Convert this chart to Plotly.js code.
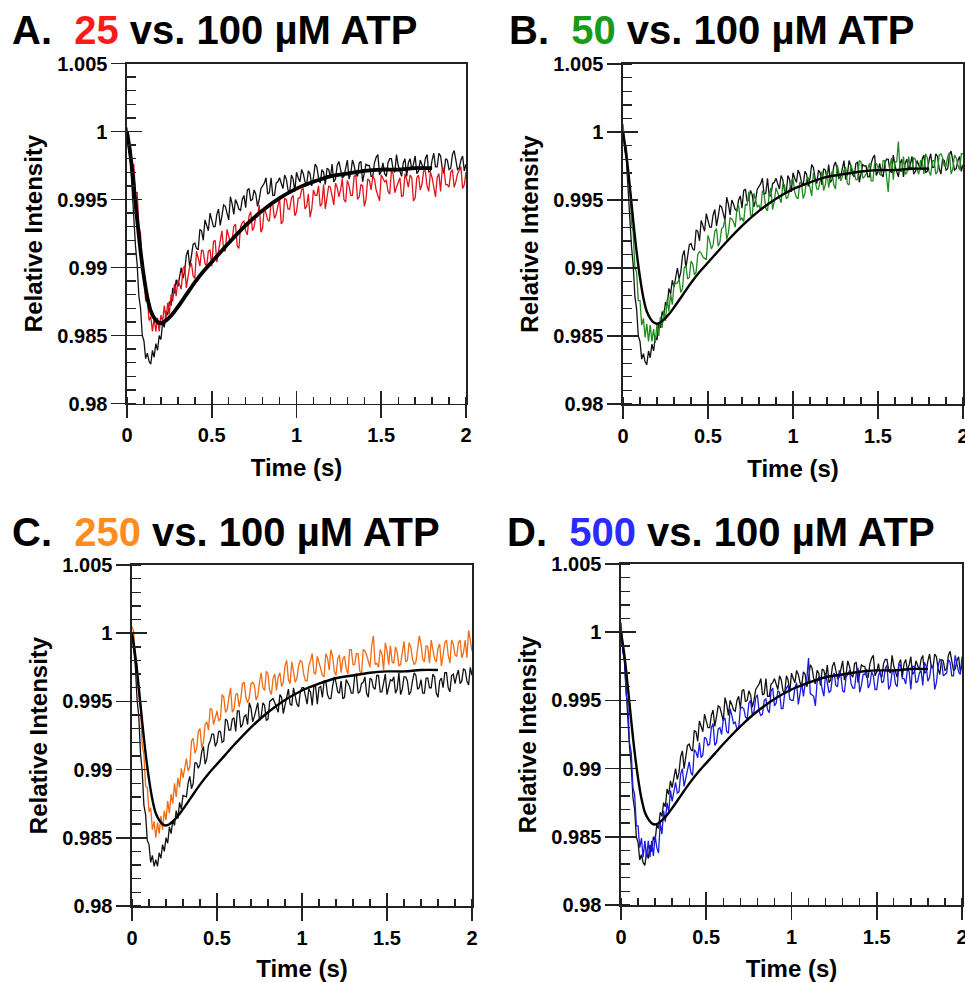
<!DOCTYPE html>
<html>
<head>
<meta charset="utf-8">
<script src="https://cdn.plot.ly/plotly-3.0.1.min.js"></script>
<style>html,body{margin:0;padding:0;background:#fff;}#chart{width:965px;height:982px;}</style>
</head>
<body>
<div id="chart"></div>
<script>
// ---- data ----
const time = [0,0.01,0.02,0.03,0.04,0.05,0.06,0.07,0.08,0.09,0.1,0.11,0.12,0.13,0.14,0.15,0.16,0.17,0.18,0.19,0.2,0.21,0.22,0.23,0.24,0.25,0.26,0.27,0.28,0.29,0.3,
0.32,0.34,0.36,0.38,0.4,0.42,0.44,0.46,0.48,0.5,
0.52,0.54,0.56,0.58,0.6,0.62,0.64,0.66,0.68,0.7,
0.72,0.74,0.76,0.78,0.8,0.82,0.84,0.86,0.88,0.9,
0.92,0.94,0.96,0.98,1,1.02,1.04,1.06,1.08,1.1,
1.12,1.14,1.16,1.18,1.2,1.22,1.24,1.26,1.28,1.3,
1.32,1.34,1.36,1.38,1.4,1.42,1.44,1.46,1.48,1.5,
1.52,1.54,1.56,1.58,1.6,1.62,1.64,1.66,1.68,1.7,
1.72,1.74,1.76,1.78,1.8,1.82,1.84,1.86,1.88,1.9,
1.92,1.94,1.96,1.98,2];

// in-between sample times of the recovery phase
const midTime = [0.33,0.35,0.37,0.39,0.41,0.43,0.45,0.47,0.49,0.51,
0.53,0.55,0.57,0.59,0.61,0.63,0.65,0.67,0.69,0.71,
0.73,0.75,0.77,0.79,0.81,0.83,0.85,0.87,0.89,0.91,
0.93,0.95,0.97,0.99,1.01,1.03,1.05,1.07,1.09,1.11,
1.13,1.15,1.17,1.19,1.21,1.23,1.25,1.27,1.29,1.31,
1.33,1.35,1.37,1.39,1.41,1.43,1.45,1.47,1.49,1.51,
1.53,1.55,1.57,1.59,1.61,1.63,1.65,1.67,1.69,1.71,
1.73,1.75,1.77,1.79,1.81,1.83,1.85,1.87,1.89,1.91,
1.93,1.95,1.97,1.99];

// 100 µM ATP control trace (panels A, B, D)
const control100 = [1.0002,0.9987,0.9979,0.9956,0.9943,0.9916,0.9902,0.9879,0.9870,0.9850,0.9846,0.9833,0.9837,0.9831,0.9829,0.9839,0.9834,0.9844,0.9839,0.9850,0.9847,0.9859,0.9856,0.9868,0.9865,0.9875,0.9872,0.9885,0.9881,0.9891,0.9886,
0.9900,0.9897,0.9913,0.9909,0.9918,0.9913,0.9927,0.9935,0.9927,0.9935,
0.9930,0.9943,0.9938,0.9945,0.9935,0.9947,0.9950,0.9943,0.9950,0.9944,
0.9958,0.9950,0.9954,0.9950,0.9960,0.9966,0.9955,0.9953,0.9962,0.9966,
0.9958,0.9965,0.9955,0.9965,0.9970,0.9963,0.9969,0.9961,0.9969,0.9966,
0.9974,0.9962,0.9970,0.9973,0.9966,0.9963,0.9975,0.9971,0.9967,0.9979,
0.9969,0.9975,0.9967,0.9978,0.9969,0.9975,0.9967,0.9977,0.9983,0.9971,
0.9969,0.9977,0.9980,0.9970,0.9975,0.9967,0.9980,0.9977,0.9972,0.9982,
0.9971,0.9976,0.9980,0.9970,0.9979,0.9974,0.9984,0.9973,0.9980,0.9972,
0.9983,0.9979,0.9973,0.9982,0.9976];
const control100Mid = [0.9892,0.9909,0.9900,0.9917,0.9914,0.9928,0.9920,0.9931,0.9940,0.9930,
0.9939,0.9931,0.9946,0.9940,0.9952,0.9939,0.9947,0.9942,0.9953,0.9957,
0.9949,0.9957,0.9945,0.9958,0.9962,0.9954,0.9966,0.9953,0.9963,0.9961,
0.9968,0.9957,0.9968,0.9956,0.9966,0.9972,0.9963,0.9971,0.9960,0.9976,
0.9966,0.9972,0.9961,0.9972,0.9976,0.9965,0.9978,0.9966,0.9972,0.9965,
0.9979,0.9969,0.9977,0.9963,0.9976,0.9975,0.9967,0.9981,0.9968,0.9977,
0.9967,0.9980,0.9972,0.9983,0.9970,0.9977,0.9967,0.9980,0.9976,0.9969,
0.9979,0.9972,0.9983,0.9971,0.9984,0.9974,0.9982,0.9969,0.9979,0.9973,
0.9986,0.9972,0.9979,0.9971];

// 100 µM ATP control trace (panel C)
const control100C = [1.0001,0.9986,0.9975,0.9951,0.9939,0.9912,0.9899,0.9874,0.9867,0.9848,0.9845,0.9832,0.9837,0.9829,0.9834,0.9829,0.9839,0.9835,0.9845,0.9840,0.9850,0.9846,0.9858,0.9853,0.9863,0.9859,0.9870,0.9864,0.9876,0.9871,0.9881,
0.9880,0.9895,0.9890,0.9905,0.9904,0.9917,0.9908,0.9921,0.9926,0.9920,
0.9928,0.9921,0.9936,0.9929,0.9938,0.9943,0.9931,0.9939,0.9933,0.9945,
0.9939,0.9949,0.9939,0.9947,0.9937,0.9951,0.9949,0.9942,0.9953,0.9947,
0.9959,0.9947,0.9955,0.9946,0.9960,0.9954,0.9959,0.9947,0.9961,0.9960,
0.9953,0.9965,0.9952,0.9961,0.9964,0.9956,0.9952,0.9966,0.9961,0.9956,
0.9970,0.9957,0.9964,0.9956,0.9967,0.9960,0.9969,0.9957,0.9964,0.9955,
0.9966,0.9968,0.9959,0.9955,0.9968,0.9965,0.9957,0.9971,0.9959,0.9966,
0.9956,0.9967,0.9960,0.9968,0.9953,0.9967,0.9971,0.9960,0.9969,0.9963,
0.9973,0.9965,0.9973,0.9962,0.9969];
const control100CMid = [0.9890,0.9886,0.9905,0.9901,0.9913,0.9904,0.9918,0.9926,0.9917,0.9928,
0.9920,0.9937,0.9929,0.9937,0.9928,0.9943,0.9933,0.9940,0.9949,0.9935,
0.9945,0.9936,0.9949,0.9936,0.9950,0.9952,0.9945,0.9955,0.9941,0.9952,
0.9948,0.9960,0.9948,0.9957,0.9960,0.9948,0.9957,0.9961,0.9948,0.9961,
0.9965,0.9955,0.9952,0.9968,0.9957,0.9965,0.9953,0.9963,0.9956,0.9969,
0.9956,0.9963,0.9968,0.9953,0.9966,0.9959,0.9969,0.9957,0.9970,0.9960,
0.9965,0.9956,0.9971,0.9959,0.9968,0.9955,0.9965,0.9969,0.9960,0.9956,
0.9967,0.9960,0.9970,0.9956,0.9965,0.9960,0.9971,0.9957,0.9970,0.9969,
0.9963,0.9974,0.9965,0.9975];

const atp25 = [1.0003,0.9989,0.9990,0.9975,0.9976,0.9955,0.9955,0.9931,0.9925,0.9900,0.9896,0.9875,0.9877,0.9861,0.9864,0.9853,0.9863,0.9853,0.9863,0.9853,0.9865,0.9860,0.9872,0.9862,0.9874,0.9866,0.9880,0.9875,0.9888,0.9879,0.9891,
0.9884,0.9901,0.9893,0.9903,0.9892,0.9907,0.9913,0.9903,0.9912,0.9901,
0.9920,0.9912,0.9927,0.9912,0.9923,0.9920,0.9932,0.9914,0.9933,0.9927,
0.9938,0.9927,0.9938,0.9946,0.9929,0.9940,0.9934,0.9946,0.9939,0.9951,
0.9934,0.9950,0.9943,0.9953,0.9941,0.9951,0.9958,0.9945,0.9937,0.9957,
0.9953,0.9945,0.9961,0.9950,0.9959,0.9946,0.9959,0.9957,0.9950,0.9964,
0.9953,0.9967,0.9950,0.9961,0.9945,0.9965,0.9957,0.9965,0.9953,0.9968,
0.9963,0.9956,0.9971,0.9955,0.9963,0.9952,0.9969,0.9959,0.9966,0.9951,
0.9968,0.9961,0.9971,0.9956,0.9966,0.9952,0.9969,0.9973,0.9961,0.9959,
0.9972,0.9963,0.9971,0.9958,0.9970];
const atp25Mid = [0.9899,0.9885,0.9901,0.9894,0.9912,0.9901,0.9912,0.9901,0.9913,0.9919,
0.9904,0.9921,0.9913,0.9928,0.9918,0.9930,0.9916,0.9930,0.9934,0.9924,
0.9941,0.9930,0.9937,0.9926,0.9944,0.9935,0.9948,0.9936,0.9946,0.9932,
0.9951,0.9943,0.9951,0.9938,0.9951,0.9957,0.9943,0.9954,0.9943,0.9953,
0.9960,0.9947,0.9943,0.9960,0.9951,0.9962,0.9952,0.9965,0.9948,0.9960,
0.9953,0.9968,0.9952,0.9960,0.9950,0.9964,0.9967,0.9957,0.9949,0.9966,
0.9964,0.9954,0.9969,0.9959,0.9966,0.9953,0.9965,0.9968,0.9949,0.9966,
0.9957,0.9971,0.9960,0.9970,0.9958,0.9966,0.9956,0.9973,0.9961,0.9970,
0.9959,0.9969,0.9974,0.9961];

const atp50 = [1.0006,0.9991,0.9989,0.9966,0.9961,0.9933,0.9926,0.9900,0.9897,0.9876,0.9876,0.9858,0.9863,0.9849,0.9859,0.9846,0.9858,0.9846,0.9855,0.9845,0.9859,0.9850,0.9864,0.9856,0.9869,0.9861,0.9877,0.9868,0.9881,0.9873,0.9888,
0.9889,0.9882,0.9900,0.9892,0.9905,0.9895,0.9910,0.9911,0.9907,0.9924,
0.9914,0.9927,0.9916,0.9929,0.9936,0.9926,0.9936,0.9930,0.9946,0.9937,
0.9947,0.9956,0.9938,0.9950,0.9946,0.9957,0.9944,0.9954,0.9943,0.9959,
0.9951,0.9962,0.9951,0.9958,0.9966,0.9952,0.9963,0.9951,0.9965,0.9959,
0.9970,0.9958,0.9966,0.9957,0.9971,0.9967,0.9961,0.9976,0.9964,0.9972,
0.9962,0.9976,0.9970,0.9965,0.9978,0.9967,0.9974,0.9964,0.9977,0.9974,
0.9968,0.9979,0.9956,0.9981,0.9978,0.9993,0.9971,0.9969,0.9982,0.9973,
0.9980,0.9969,0.9979,0.9984,0.9971,0.9979,0.9969,0.9983,0.9981,0.9975,
0.9985,0.9973,0.9981,0.9972,0.9984];
const atp50Mid = [0.9892,0.9885,0.9902,0.9893,0.9903,0.9897,0.9912,0.9908,0.9906,0.9920,
0.9917,0.9929,0.9919,0.9930,0.9921,0.9937,0.9934,0.9943,0.9935,0.9934,
0.9946,0.9939,0.9955,0.9945,0.9942,0.9954,0.9942,0.9959,0.9949,0.9955,
0.9948,0.9961,0.9952,0.9964,0.9956,0.9951,0.9962,0.9955,0.9966,0.9953,
0.9964,0.9958,0.9971,0.9961,0.9959,0.9971,0.9958,0.9971,0.9967,0.9974,
0.9961,0.9972,0.9965,0.9979,0.9966,0.9969,0.9977,0.9964,0.9977,0.9969,
0.9979,0.9967,0.9975,0.9965,0.9978,0.9971,0.9982,0.9970,0.9974,0.9981,
0.9972,0.9979,0.9969,0.9981,0.9968,0.9979,0.9971,0.9984,0.9975,0.9982,
0.9969,0.9983,0.9976,0.9984];

const atp250 = [1.0005,1.0001,0.9982,0.9976,0.9953,0.9945,0.9918,0.9911,0.9888,0.9887,0.9869,0.9872,0.9856,0.9862,0.9850,0.9861,0.9853,0.9866,0.9856,0.9870,0.9863,0.9877,0.9868,0.9882,0.9875,0.9890,0.9880,0.9894,0.9887,0.9901,0.9894,
0.9908,0.9902,0.9923,0.9915,0.9930,0.9920,0.9935,0.9945,0.9933,0.9943,
0.9937,0.9953,0.9944,0.9960,0.9944,0.9956,0.9952,0.9964,0.9949,0.9963,
0.9962,0.9954,0.9971,0.9958,0.9970,0.9955,0.9970,0.9968,0.9961,0.9976,
0.9966,0.9979,0.9964,0.9976,0.9979,0.9965,0.9976,0.9985,0.9970,0.9979,
0.9969,0.9985,0.9973,0.9983,0.9969,0.9984,0.9981,0.9974,0.9988,0.9977,
0.9985,0.9972,0.9988,0.9984,0.9975,0.9998,0.9978,0.9988,0.9973,0.9987,
0.9991,0.9978,0.9986,0.9977,0.9994,0.9980,0.9990,0.9977,0.9987,0.9992,
0.9979,0.9990,0.9995,0.9981,0.9989,0.9976,0.9993,0.9984,0.9995,0.9984,
0.9993,0.9982,0.9995,1.0002,0.9987];
const atp250Mid = [0.9899,0.9921,0.9912,0.9928,0.9916,0.9933,0.9929,0.9944,0.9938,0.9936,
0.9955,0.9942,0.9953,0.9942,0.9955,0.9946,0.9963,0.9953,0.9953,0.9964,
0.9951,0.9964,0.9960,0.9972,0.9958,0.9967,0.9958,0.9971,0.9964,0.9980,
0.9963,0.9972,0.9967,0.9980,0.9970,0.9965,0.9980,0.9971,0.9983,0.9974,
0.9968,0.9982,0.9988,0.9972,0.9981,0.9971,0.9983,0.9970,0.9988,0.9977,
0.9985,0.9970,0.9987,0.9979,0.9991,0.9977,0.9975,0.9985,0.9993,0.9977,
0.9979,0.9990,0.9976,0.9986,0.9979,0.9993,0.9981,0.9979,0.9998,0.9981,
0.9991,0.9978,0.9989,0.9979,0.9992,0.9984,0.9995,0.9978,0.9992,0.9983,
0.9995,0.9986,0.9982,0.9995];

const atp500 = [1.0007,0.9986,0.9981,0.9955,0.9947,0.9919,0.9912,0.9886,0.9881,0.9858,0.9858,0.9842,0.9849,0.9835,0.9847,0.9835,0.9847,0.9835,0.9847,0.9836,0.9851,0.9842,0.9838,0.9860,0.9852,0.9869,0.9861,0.9875,0.9868,0.9884,0.9876,
0.9890,0.9883,0.9900,0.9893,0.9905,0.9895,0.9912,0.9919,0.9910,0.9922,
0.9918,0.9933,0.9919,0.9930,0.9936,0.9927,0.9944,0.9933,0.9929,0.9944,
0.9944,0.9936,0.9950,0.9942,0.9954,0.9939,0.9950,0.9943,0.9957,0.9946,
0.9957,0.9944,0.9955,0.9961,0.9950,0.9959,0.9947,0.9963,0.9962,0.9981,
0.9954,0.9946,0.9967,0.9958,0.9970,0.9956,0.9967,0.9961,0.9972,0.9957,
0.9967,0.9972,0.9959,0.9970,0.9956,0.9969,0.9973,0.9962,0.9968,0.9958,
0.9972,0.9964,0.9976,0.9961,0.9971,0.9960,0.9976,0.9966,0.9973,0.9958,
0.9975,0.9964,0.9972,0.9978,0.9964,0.9976,0.9958,0.9975,0.9979,0.9969,
0.9980,0.9968,0.9983,0.9971,0.9982];
const atp500Mid = [0.9882,0.9896,0.9887,0.9901,0.9897,0.9914,0.9908,0.9908,0.9923,0.9917,
0.9930,0.9917,0.9929,0.9925,0.9937,0.9926,0.9939,0.9934,0.9929,0.9945,
0.9938,0.9948,0.9939,0.9952,0.9942,0.9940,0.9951,0.9941,0.9959,0.9948,
0.9956,0.9944,0.9959,0.9951,0.9950,0.9963,0.9955,0.9953,0.9966,0.9955,
0.9953,0.9963,0.9966,0.9953,0.9964,0.9957,0.9970,0.9960,0.9968,0.9956,
0.9969,0.9962,0.9959,0.9974,0.9961,0.9969,0.9959,0.9971,0.9958,0.9968,
0.9963,0.9973,0.9958,0.9971,0.9962,0.9976,0.9966,0.9962,0.9971,0.9975,
0.9963,0.9970,0.9961,0.9975,0.9967,0.9974,0.9963,0.9980,0.9968,0.9970,
0.9978,0.9968,0.9977,0.9969];

// fitted curve (same in every panel)
const fitTime = [0,0.02,0.04,0.06,0.08,0.10,0.12,0.14,0.16,0.18,0.20,0.22,0.24,0.27,0.30,0.35,0.40,0.45,0.50,0.55,0.60,0.70,0.80,0.90,1.00,1.10,1.20,1.30,1.40,1.50,1.60,1.70,1.80];
const fitValues = [1.0000,0.9983,0.9960,0.9935,0.9912,0.9893,0.9878,0.9868,0.9863,0.9860,0.9859,0.9860,0.9862,0.9866,0.9871,0.9880,0.9889,0.9897,0.9904,0.9911,0.9918,0.9931,0.9942,0.9951,0.9958,0.9963,0.9967,0.9969,0.9971,0.9972,0.9972,0.9973,0.9973];

const xTickVals = [0,0.5,1,1.5,2];
const xTickText = ['0','0.5','1','1.5','2'];
const yTickVals = [0.98,0.985,0.99,0.995,1,1.005];
const yTickText = ['0.98','0.985','0.99','0.995','1','1.005'];

const panelLetters = ['A.','B.','C.','D.'];
const concentrations = ['25','50','250','500'];
const referenceLabel = 'vs. 100 µM ATP';
const xTitle = 'Time (s)';
const yTitle = 'Relative Intensity';

// ---- helpers ----
function mergeSeries(t1, y1, t2, y2) {
  const pts = t1.map((t, i) => [t, y1[i]]).concat(t2.map((t, i) => [t, y2[i]]));
  pts.sort((a, b) => a[0] - b[0]);
  return {x: pts.map(p => p[0]), y: pts.map(p => p[1])};
}

// ---- styling ----
const FONT = 'Liberation Sans, Arial, Helvetica, sans-serif';
const W = 965, H = 982;
const AX = '#222';
const panels = [
  {ctrl: [control100, control100Mid],   test: [atp25, atp25Mid],   lineColor: '#e3121a', titleColor: '#ff1a1a', fitWidth: 3.8, px: [127, 466], py: [63.5, 403.5], tx: 10,  ty: 30},
  {ctrl: [control100, control100Mid],   test: [atp50, atp50Mid],   lineColor: '#1e8c1e', titleColor: '#1a9a1a', fitWidth: 2.4, px: [623, 963], py: [64, 404],     tx: 507, ty: 30},
  {ctrl: [control100C, control100CMid], test: [atp250, atp250Mid], lineColor: '#f26a12', titleColor: '#ff8c1e', fitWidth: 2.4, px: [132, 472], py: [565, 906],    tx: 10,  ty: 532},
  {ctrl: [control100, control100Mid],   test: [atp500, atp500Mid], lineColor: '#1a1ae0', titleColor: '#2b2bff', fitWidth: 2.4, px: [621, 962], py: [564, 905],    tx: 505, ty: 532}
];

const data = [];
const layout = {
  width: W, height: H,
  margin: {l: 0, r: 0, t: 0, b: 0},
  paper_bgcolor: '#fff', plot_bgcolor: '#fff',
  showlegend: false,
  font: {family: FONT, color: '#000'},
  annotations: []
};

panels.forEach((p, idx) => {
  const i = idx + 1, o = idx + 5;
  const xa = 'x' + i, ya = 'y' + i;
  const c = mergeSeries(time, p.ctrl[0], midTime, p.ctrl[1]);
  const s = mergeSeries(time, p.test[0], midTime, p.test[1]);
  data.push({type: 'scatter', mode: 'lines', x: c.x, y: c.y, xaxis: xa, yaxis: ya,
             line: {color: '#111', width: 1.3}, hoverinfo: 'skip'});
  data.push({type: 'scatter', mode: 'lines', x: s.x, y: s.y, xaxis: xa, yaxis: ya,
             line: {color: p.lineColor, width: 1.3}, hoverinfo: 'skip'});
  data.push({type: 'scatter', mode: 'lines', x: fitTime, y: fitValues, xaxis: xa, yaxis: ya,
             line: {color: '#000', width: p.fitWidth, shape: 'spline'}, hoverinfo: 'skip'});
  // helpers so the overlay axes (inner half of the major ticks) are drawn
  data.push({type: 'scatter', mode: 'lines', x: [null], y: [null], xaxis: 'x' + o, yaxis: ya, hoverinfo: 'skip'});
  data.push({type: 'scatter', mode: 'lines', x: [null], y: [null], xaxis: xa, yaxis: 'y' + o, hoverinfo: 'skip'});

  const xd = [p.px[0] / W, p.px[1] / W];
  const yd = [1 - p.py[1] / H, 1 - p.py[0] / H];
  const tickFont = {family: FONT, size: 20, weight: 700, color: '#000'};
  const titleFont = {family: FONT, size: 24, weight: 700, color: '#000'};

  layout['xaxis' + i] = {
    domain: xd, anchor: ya, range: [0, 2], autorange: false,
    tickmode: 'array', tickvals: xTickVals, ticktext: xTickText,
    ticks: 'outside', ticklen: 13, tickwidth: 1.6, tickcolor: AX,
    ticklabeloverflow: 'allow',
    minor: {ticks: 'inside', tickmode: 'linear', tick0: 0, dtick: 0.1, ticklen: 7, tickwidth: 1.4, tickcolor: AX, showgrid: false},
    showline: true, linecolor: AX, linewidth: 1.6, mirror: true,
    showgrid: false, zeroline: false, tickfont: tickFont,
    title: {text: xTitle, font: titleFont, standoff: 14},
    fixedrange: true
  };
  layout['yaxis' + i] = {
    domain: yd, anchor: xa, range: [0.98, 1.005], autorange: false,
    tickmode: 'array', tickvals: yTickVals, ticktext: yTickText,
    ticks: 'outside', ticklen: 14, tickwidth: 1.6, tickcolor: AX,
    ticklabeloverflow: 'allow',
    minor: {ticks: 'inside', tickmode: 'linear', tick0: 0.98, dtick: 0.001, ticklen: 9, tickwidth: 1.4, tickcolor: AX, showgrid: false},
    showline: true, linecolor: AX, linewidth: 1.6, mirror: true,
    showgrid: false, zeroline: false, tickfont: tickFont,
    title: {text: yTitle, font: titleFont, standoff: 8},
    fixedrange: true
  };
  layout['xaxis' + o] = {
    overlaying: xa, anchor: ya, side: 'bottom', range: [0, 2], autorange: false,
    tickmode: 'array', tickvals: xTickVals, ticks: 'inside', ticklen: 13, tickwidth: 1.6, tickcolor: AX,
    showticklabels: false, showline: false, showgrid: false, zeroline: false, fixedrange: true
  };
  layout['yaxis' + o] = {
    overlaying: ya, anchor: xa, side: 'left', range: [0.98, 1.005], autorange: false,
    tickmode: 'array', tickvals: yTickVals, ticks: 'inside', ticklen: 15, tickwidth: 1.6, tickcolor: AX,
    showticklabels: false, showline: false, showgrid: false, zeroline: false, fixedrange: true
  };

  layout.annotations.push({
    xref: 'paper', yref: 'paper', x: p.tx / W, y: 1 - p.ty / H,
    xanchor: 'left', yanchor: 'middle', showarrow: false,
    text: panelLetters[idx] + '\u00a0\u00a0<span style="color:' + p.titleColor + '">' + concentrations[idx] + '</span> ' + referenceLabel,
    font: {family: FONT, size: 40, weight: 700, color: '#000'}
  });
});

Plotly.newPlot('chart', data, layout, {staticPlot: true, displayModeBar: false});
</script>
</body>
</html>
